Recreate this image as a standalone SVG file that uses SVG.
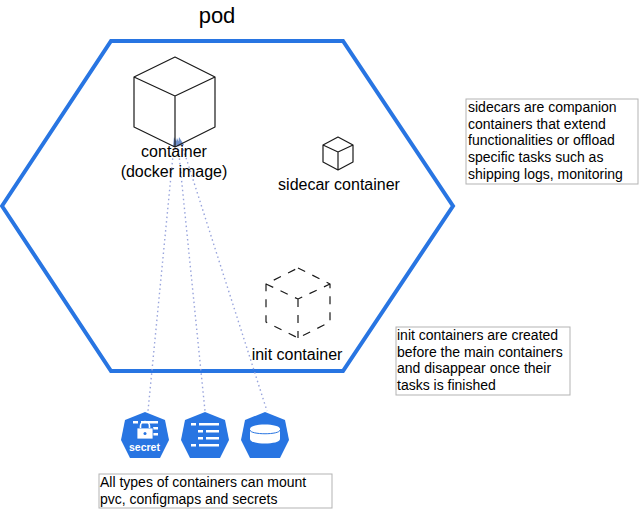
<svg xmlns="http://www.w3.org/2000/svg" width="642" height="530" viewBox="0 0 642 530">
<style>
text{font-family:"Liberation Sans",Arial,sans-serif;fill:#000}
.lbl{font-size:16px;text-anchor:middle}
.note{font-size:14px}
.box{fill:#fff;stroke:#b3b3b3;stroke-width:1}
.cube{fill:none;stroke:#1a1a1a;stroke-width:1.2;stroke-linejoin:round}
.dash{stroke-dasharray:8 8}
.link{fill:none;stroke:#98a4dc;stroke-width:1.400;stroke-dasharray:1.500 3}
.head{fill:#6f8fc9}
.k8s{fill:#2875e2}
.w{fill:#fff}
</style>
<defs>
<polygon id="hept" points="0,-23 20,-15 24,5 15,23 -15,23 -24,5 -20,-15"/>
</defs>
<g id="pod">
<polygon points="111,41 343,41 453,206 343,371 111,371 2,206" fill="#fff" stroke="#2875e2" stroke-width="4"/>
<text x="217" y="23" font-size="22" text-anchor="middle">pod</text>
</g>
<g id="connectors">
<path class="link" d="M174,145 L148,411"/>
<path class="link" d="M178,145 L205,411"/>
<path class="link" d="M182,145 L267,411"/>
<path class="head" d="M173,147 L174,137 L178,145 Z M175,146 L177,138 L180,145 Z M178,146 L179,137 L184,145 Z"/>
</g>
<g id="container">
<path class="cube" d="M175,57 L215,77 L215,127 L175,147 L134,127 L134,77 Z M134,77 L175,96 L215,77 M175,96 L175,147"/>
<text class="lbl" x="174" y="157">container</text>
<text class="lbl" x="174" y="177">(docker image)</text>
</g>
<g id="sidecar">
<path class="cube" d="M338,137 L353,145 L353,162 L338,170 L323,162 L323,145 Z M323,145 L338,152 L353,145 M338,152 L338,170"/>
<text class="lbl" x="339" y="190">sidecar container</text>
</g>
<g id="init">
<path class="cube dash" d="M298,268 L330,284 L330,322 L298,338 L266,322 L266,284 Z M266,284 L298,299 L330,284 M298,299 L298,338"/>
<text class="lbl" x="297" y="360">init container</text>
</g>
<g id="secret">
<use href="#hept" x="145" y="435" class="k8s"/>
<path class="w" d="M133,421h5v2.500h-5z M141,421h17v2.500h-17z M153,427h5v2.500h-5z M153,433h5v2.500h-5z"/>
<rect x="137" y="428" width="16" height="11" fill="#fff" stroke="#2875e2" stroke-width=".8"/>
<path d="M140.500,428v-2a4.500,4.500 0 0 1 9,0v2" fill="none" stroke="#fff" stroke-width="1.600"/>
<circle cx="145" cy="433.500" r="1.500" fill="#2875e2"/>
<text x="144.500" y="451" font-size="10.500" font-weight="bold" text-anchor="middle" style="fill:#fff">secret</text>
</g>
<g id="configmap">
<use href="#hept" x="205" y="435" class="k8s"/>
<path class="w" d="M191,423h5v2.500h-5z M199,423h20v2.500h-20z M198,430h5v2.500h-5z M206,430h13v2.500h-13z M198,437h5v2.500h-5z M206,437h13v2.500h-13z M191,444h5v2.500h-5z M199,444h20v2.500h-20z"/>
</g>
<g id="pvc">
<use href="#hept" x="265" y="435" class="k8s"/>
<path class="w" d="M250,429c0,-6 30,-6 30,0v10c0,6 -30,6 -30,0z"/>
<path d="M250,430c0,5 30,5 30,0" fill="none" stroke="#2875e2" stroke-width="1"/>
</g>
<g id="note-sidecars">
<rect class="box" x="466" y="99" width="172" height="85"/>
<text class="note" x="468" y="112">sidecars are companion</text>
<text class="note" x="468" y="129">containers that extend</text>
<text class="note" x="468" y="145">functionalities or offload</text>
<text class="note" x="468" y="162">specific tasks such as</text>
<text class="note" x="468" y="179">shipping logs, monitoring</text>
</g>
<g id="note-init">
<rect class="box" x="396" y="327" width="174" height="68"/>
<text class="note" x="397" y="340">init containers are created</text>
<text class="note" x="397" y="357">before the main containers</text>
<text class="note" x="397" y="373">and disappear once their</text>
<text class="note" x="397" y="390">tasks is finished</text>
</g>
<g id="note-mount">
<rect class="box" x="99" y="474" width="233" height="34"/>
<text class="note" x="100" y="487">All types of containers can mount</text>
<text class="note" x="100" y="504">pvc, configmaps and secrets</text>
</g>
</svg>
